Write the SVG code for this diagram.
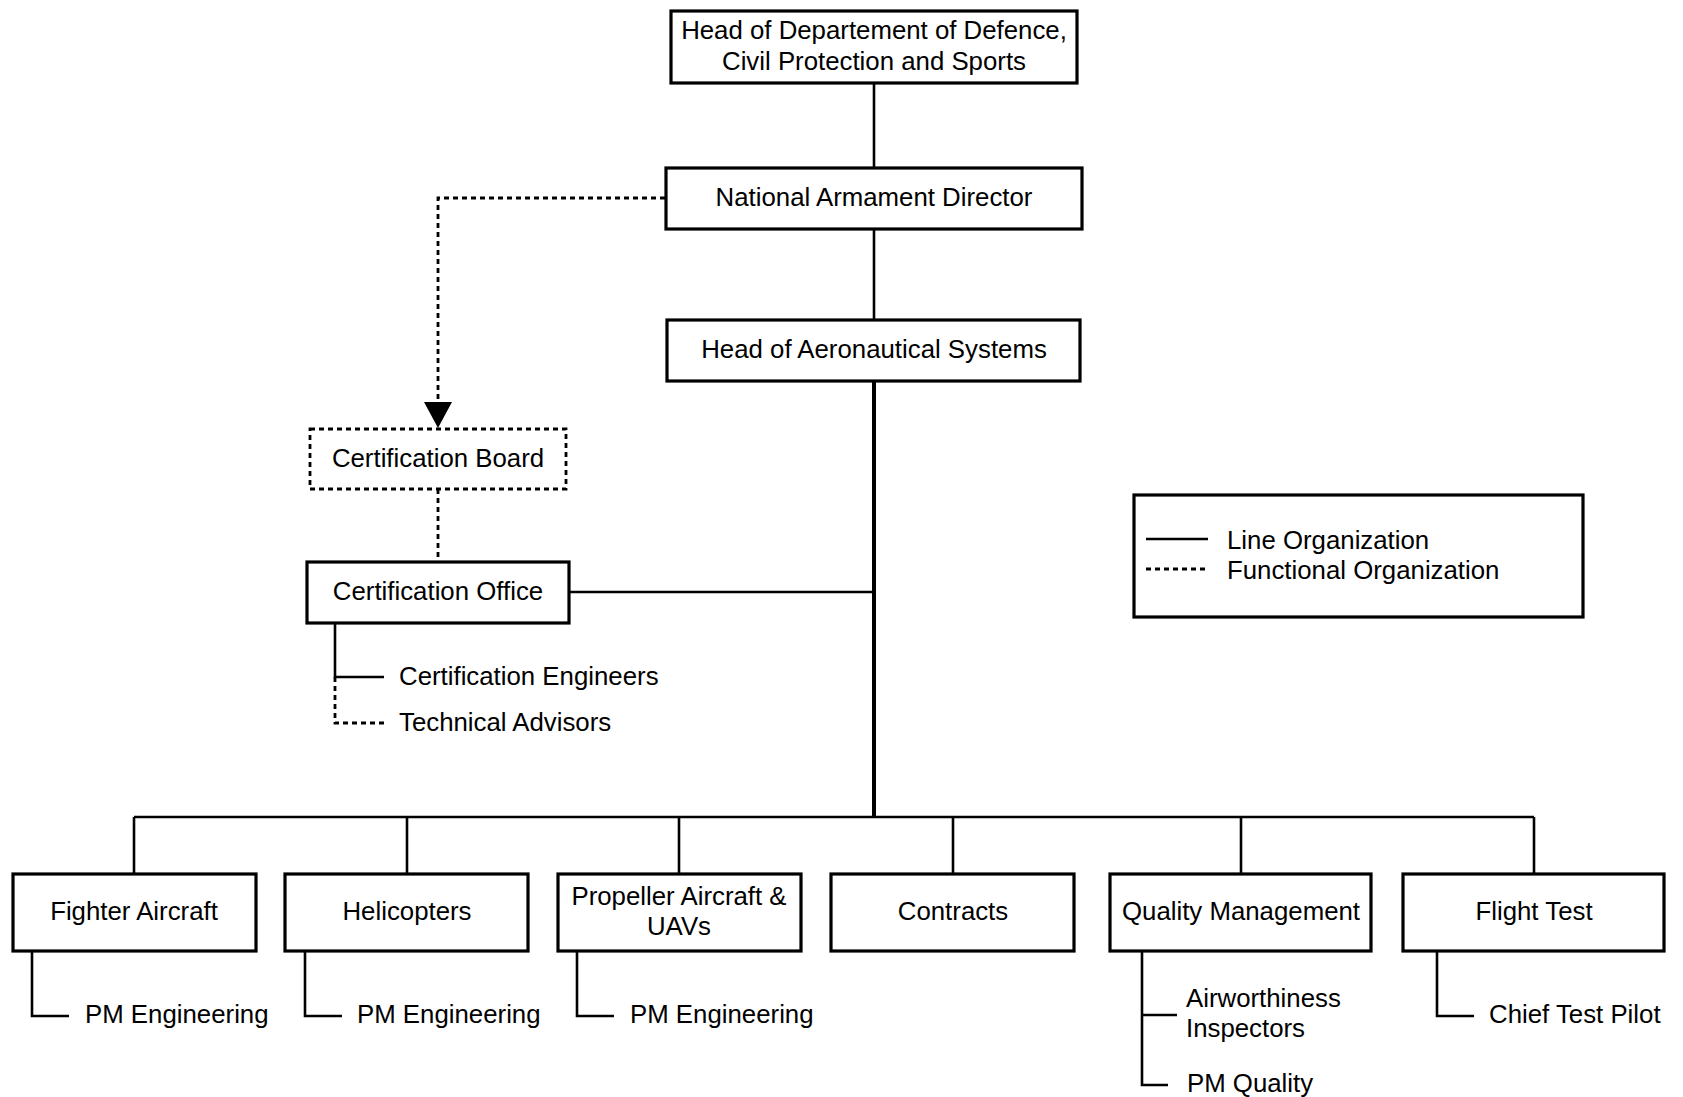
<svg xmlns="http://www.w3.org/2000/svg" width="1683" height="1097" viewBox="0 0 1683 1097">
<style>
text{font-family:"Liberation Sans",Arial,sans-serif;font-size:25.8px;fill:#000}
.box{fill:#fff;stroke:#000;stroke-width:3.2}
.dbox{fill:#fff;stroke:#000;stroke-width:2.8;stroke-dasharray:5,4}
.c{text-anchor:middle}
.ln{fill:none;stroke:#000;stroke-width:2.6}
.thick{fill:none;stroke:#000;stroke-width:4}
.dl{fill:none;stroke:#000;stroke-width:2.8;stroke-dasharray:5,4}
</style>
<rect width="1683" height="1097" fill="#fff"/>
<g id="connectors">
<line class="ln" x1="874" y1="83" x2="874" y2="168"/>
<line class="ln" x1="874" y1="229" x2="874" y2="320"/>
<line class="thick" x1="874" y1="381" x2="874" y2="818"/>
<polyline class="dl" points="665,198 438,198 438,404"/>
<polygon points="424,402 452,402 438,428" fill="#000"/>
<line class="dl" x1="438" y1="489" x2="438" y2="562"/>
<line class="ln" x1="569" y1="592" x2="874" y2="592"/>
<polyline class="ln" points="335,623 335,677 384,677"/>
<polyline class="dl" points="335,677 335,723 384,723"/>
<line class="ln" x1="134" y1="817" x2="1534" y2="817" stroke-width="3"/>
<line class="ln" x1="134" y1="817" x2="134" y2="874"/>
<line class="ln" x1="407" y1="817" x2="407" y2="874"/>
<line class="ln" x1="679" y1="817" x2="679" y2="874"/>
<line class="ln" x1="953" y1="817" x2="953" y2="874"/>
<line class="ln" x1="1241" y1="817" x2="1241" y2="874"/>
<line class="ln" x1="1534" y1="817" x2="1534" y2="874"/>
<polyline class="ln" points="32,951 32,1016 69,1016"/>
<polyline class="ln" points="305,951 305,1016 342,1016"/>
<polyline class="ln" points="577,951 577,1016 614,1016"/>
<polyline class="ln" points="1142,951 1142,1085 1168,1085"/>
<line class="ln" x1="1142" y1="1015" x2="1177" y2="1015"/>
<polyline class="ln" points="1437,951 1437,1016 1474,1016"/>
</g>
<g id="head-dept">
<rect class="box" x="671" y="11" width="406" height="72"/>
<text class="c" x="874" y="39">Head of Departement of Defence,</text>
<text class="c" x="874" y="70">Civil Protection and Sports</text>
</g>
<g id="national-armament-director">
<rect class="box" x="666" y="168" width="416" height="61"/>
<text class="c" x="874" y="206">National Armament Director</text>
</g>
<g id="head-aeronautical">
<rect class="box" x="667" y="320" width="413" height="61"/>
<text class="c" x="874" y="358">Head of Aeronautical Systems</text>
</g>
<g id="certification-board">
<rect class="dbox" x="310" y="429" width="256" height="60"/>
<text class="c" x="438" y="467">Certification Board</text>
</g>
<g id="certification-office">
<rect class="box" x="307" y="562" width="262" height="61"/>
<text class="c" x="438" y="600">Certification Office</text>
</g>
<g id="certification-engineers"><text x="399" y="685">Certification Engineers</text></g>
<g id="technical-advisors"><text x="399" y="731">Technical Advisors</text></g>
<g id="legend">
<rect class="box" x="1134" y="495" width="449" height="122" stroke-width="2.8"/>
<line class="ln" x1="1146" y1="539" x2="1208" y2="539"/>
<line class="dl" x1="1146" y1="569" x2="1208" y2="569"/>
<text x="1227" y="549">Line Organization</text>
<text x="1227" y="579">Functional Organization</text>
</g>
<g id="fighter-aircraft">
<rect class="box" x="13" y="874" width="243" height="77"/>
<text class="c" x="134" y="920">Fighter Aircraft</text>
<text x="85" y="1023">PM Engineering</text>
</g>
<g id="helicopters">
<rect class="box" x="285" y="874" width="243" height="77"/>
<text class="c" x="407" y="920">Helicopters</text>
<text x="357" y="1023">PM Engineering</text>
</g>
<g id="propeller-aircraft">
<rect class="box" x="558" y="874" width="243" height="77"/>
<text class="c" x="679" y="905">Propeller Aircraft &amp;</text>
<text class="c" x="679" y="935">UAVs</text>
<text x="630" y="1023">PM Engineering</text>
</g>
<g id="contracts">
<rect class="box" x="831" y="874" width="243" height="77"/>
<text class="c" x="953" y="920">Contracts</text>
</g>
<g id="quality-management">
<rect class="box" x="1110" y="874" width="261" height="77"/>
<text class="c" x="1241" y="920">Quality Management</text>
<text x="1186" y="1007">Airworthiness</text>
<text x="1186" y="1037">Inspectors</text>
<text x="1187" y="1092">PM Quality</text>
</g>
<g id="flight-test">
<rect class="box" x="1403" y="874" width="261" height="77"/>
<text class="c" x="1534" y="920">Flight Test</text>
<text x="1489" y="1023">Chief Test Pilot</text>
</g>
</svg>
